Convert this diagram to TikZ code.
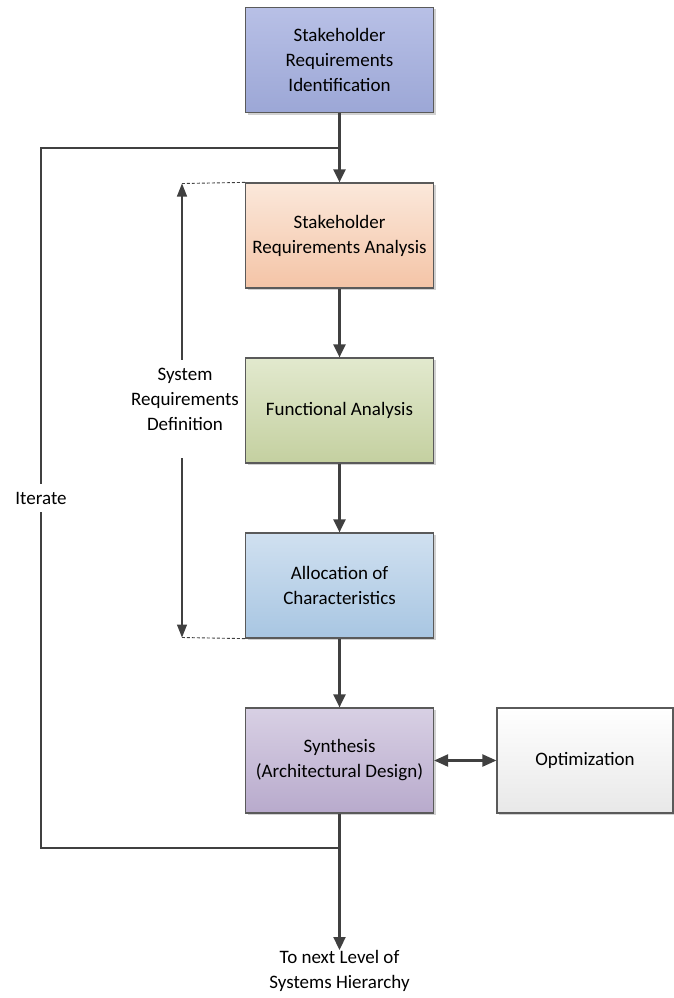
\documentclass[tikz,border=0pt]{standalone}
\usepackage{fontspec}
\setmainfont{Carlito}
\usetikzlibrary{arrows.meta,shadows}

\definecolor{linegray}{HTML}{404040}
\definecolor{edgegray}{HTML}{5A5A5A}

\tikzset{
  stepbox/.style={draw=edgegray, line width=1.2pt, minimum width=188, minimum height=105,
    align=center, text=black, drop shadow={shadow xshift=2pt, shadow yshift=-2pt, fill=black!30, opacity=0.6}},
  flow/.style={draw=linegray, line width=2.2pt},
  flowtip/.style={flow, -{Triangle[length=13pt,width=12pt]}},
  guide/.style={draw=linegray, line width=1.3pt, -{Triangle[length=13pt,width=10pt]}},
  hint/.style={draw=linegray, line width=0.9pt, dash pattern=on 3pt off 2pt}
}

\begin{document}
\begin{tikzpicture}[x=1pt, y=-1pt]

\def\cx{339.5}

\fontsize{19}{25}\selectfont
\path [use as bounding box] (0,0) rectangle (674,998);

% BOXES
\node [stepbox, top color={rgb,255:red,184;green,192;blue,230}, bottom color={rgb,255:red,156;green,167;blue,214}]
  (ident) at (\cx,60) {Stakeholder\\Requirements\\Identification};
\node [stepbox, top color={rgb,255:red,251;green,232;blue,219}, bottom color={rgb,255:red,244;green,196;blue,166}]
  (anal) at (\cx,235.5) {Stakeholder\\Requirements Analysis};
\node [stepbox, top color={rgb,255:red,226;green,233;blue,206}, bottom color={rgb,255:red,196;green,208;blue,160}]
  (func) at (\cx,410.5) {Functional Analysis};
\node [stepbox, top color={rgb,255:red,208;green,224;blue,240}, bottom color={rgb,255:red,168;green,198;blue,226}]
  (alloc) at (\cx,585.5) {Allocation of\\Characteristics};
\node [stepbox, top color={rgb,255:red,216;green,208;blue,228}, bottom color={rgb,255:red,184;green,170;blue,204}]
  (synth) at (\cx,760.5) {Synthesis\\(Architectural Design)};
\node [stepbox, minimum width=176, top color=white, bottom color={rgb,255:red,232;green,232;blue,232}]
  (optim) at (585,760.5) {Optimization};

% LABELS
\node [align=center, inner sep=0pt] (sysdef) at (185,399) {System\\Requirements\\Definition};
\node [inner xsep=0pt, inner ysep=8pt] (iter) at (41,498) {Iterate};
\node [align=center, inner sep=0pt, anchor=north] (next) at (\cx,950) {To next Level of\\Systems Hierarchy};

\coordinate (jtop) at (\cx,148);
\coordinate (jbot) at (\cx,848);
\coordinate (dtop) at (182,183.5);
\coordinate (dbot) at (182,637.5);

% MAIN FLOW
\draw [flowtip] (ident) -- (anal);
\draw [flowtip] (anal) -- (func);
\draw [flowtip] (func) -- (alloc);
\draw [flowtip] (alloc) -- (synth);
\draw [flowtip] (synth) -- (next);
\draw [flow, {Triangle[length=14pt,width=12pt]}-{Triangle[length=14pt,width=12pt]}] (synth) -- (optim);

% ITERATE LOOP
\draw [flow] (jbot) -| (iter.south);
\draw [flow] (iter.north) |- (jtop);

% SYSTEM REQUIREMENTS DEFINITION
\draw [hint] (anal.north west) -- (dtop);
\draw [hint] (alloc.south west) -- (dbot);
\draw [guide] ([yshift=8pt]sysdef.north -| dtop) -- (dtop);
\draw [guide] ([yshift=-28pt]sysdef.south -| dbot) -- (dbot);

\end{tikzpicture}
\end{document}
